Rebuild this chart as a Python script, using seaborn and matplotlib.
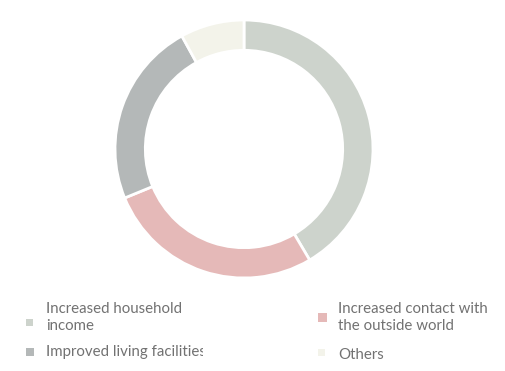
import matplotlib
matplotlib.use("Agg")
import matplotlib.pyplot as plt
import seaborn as sns
from matplotlib.patches import Rectangle
from matplotlib.transforms import Bbox

# Benefits reported, share of respondents (%)
categories = [
    "Increased household\nincome",
    "Increased contact with\nthe outside world",
    "Improved living facilities",
    "Others",
]
shares = [41.5, 27.3, 23.2, 8.0]
colors = ["#cdd3cc", "#e5b9b8", "#b4b8b8", "#f3f3ea"]

sns.set_theme(style="white")
plt.rcParams["font.family"] = ["Lato", "DejaVu Sans"]

W, H = 506, 371
fig = plt.figure(figsize=(W / 100, H / 100), dpi=100)
fig.patch.set_facecolor("white")

# Donut ring
ax = fig.add_axes([115 / W, (H - 278) / H, 258 / W, 258 / H])
wedges, _ = ax.pie(
    shares,
    colors=colors,
    startangle=90,
    counterclock=False,
    radius=1.0,
    wedgeprops=dict(width=0.235, edgecolor="white", linewidth=2),
)
ax.set_xlim(-1, 1)
ax.set_ylim(-1, 1)
ax.set_aspect("equal")
ax.axis("off")

# Legend laid out in two columns below the ring (pixel slots)
slots = [
    (26, 319, 7, 46, 302),
    (318, 313, 9, 338, 302),
    (26, 348, 8, 46, 345),
    (318, 349, 7, 338, 348),
]
for label, color, (sx, sy, s, tx, ty) in zip(categories, colors, slots):
    fig.add_artist(Rectangle((sx / W, 1 - (sy + s) / H), s / W, s / H,
                             transform=fig.transFigure, facecolor=color,
                             edgecolor="none"))
    t = fig.text(tx / W, 1 - ty / H, label, ha="left", va="top",
                 fontsize=10.8, color="#727272", linespacing=1.28,
                 fontweight="normal")
    if label.startswith("Improved"):
        t.set_clip_box(Bbox.from_extents(0, 0, 203, H))
        t.set_clip_on(True)

fig.savefig("out.png", dpi=100)
